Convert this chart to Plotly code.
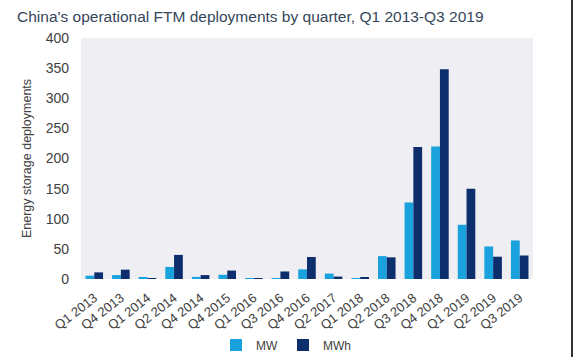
import plotly.graph_objects as go

categories = ["Q1 2013", "Q4 2013", "Q1 2014", "Q2 2014", "Q4 2014", "Q4 2015",
              "Q1 2016", "Q3 2016", "Q4 2016", "Q2 2017", "Q1 2018", "Q2 2018",
              "Q3 2018", "Q4 2018", "Q1 2019", "Q2 2019", "Q3 2019"]
mw = [5.5, 6.5, 2, 20, 3.5, 7, 1, 1.5, 16, 9, 1, 38, 127, 220, 90, 54, 64]
mwh = [11, 15.5, 1, 40, 6.5, 14, 1, 12.5, 36.5, 4, 2, 36, 219, 348, 150, 37, 39]
y_ticks = [0, 50, 100, 150, 200, 250, 300, 350, 400]

font_family = "Liberation Sans, Arial, sans-serif"

fig = go.Figure()
fig.add_trace(go.Bar(name="MW", x=categories, y=mw, marker_color="#19a2dd",
                     marker_line_width=0))
fig.add_trace(go.Bar(name="MWh", x=categories, y=mwh, marker_color="#0c2e6c",
                     marker_line_width=0))

fig.update_layout(
    width=575, height=357,
    margin=dict(l=81, r=42, t=38, b=78, autoexpand=False),
    paper_bgcolor="white",
    plot_bgcolor="#efeef3",
    barmode="group",
    bargap=0.34,
    bargroupgap=0,
    font=dict(family=font_family, color="#404040"),
    title=dict(text="China's operational FTM deployments by quarter, Q1 2013-Q3 2019",
               x=17 / 575, xanchor="left", y=1 - 17 / 357, yanchor="middle",
               font=dict(size=15.5, color="#34465a", family=font_family)),
    showlegend=True,
    legend=dict(orientation="h", xref="container", x=286 / 575, xanchor="center",
                yref="container", y=12 / 357, yanchor="middle",
                font=dict(size=12, color="#404040"), itemwidth=30,
                traceorder="normal"),
    xaxis=dict(tickangle=-38, tickfont=dict(size=13, color="#404040"),
               showgrid=False, showline=False, ticks="", automargin=False,
               ticklabelstandoff=8),
    yaxis=dict(range=[0, 400], tickvals=y_ticks, showgrid=False, zeroline=False,
               tickfont=dict(size=14, color="#404040"), ticks="",
               ticklabelstandoff=11,
               title=dict(text="Energy storage deployments",
                          font=dict(size=12.5, color="#404040"), standoff=11),
               automargin=False),
    shapes=[dict(type="line", xref="paper", yref="paper", layer="above",
                 x0=(572 - 81) / 452, x1=(572 - 81) / 452, y0=-78 / 241, y1=1 + 38 / 241,
                 line=dict(color="#333333", width=2))],
)

fig.write_html("out.html", config={"displayModeBar": False},
               post_script="document.body.style.margin='0';")
